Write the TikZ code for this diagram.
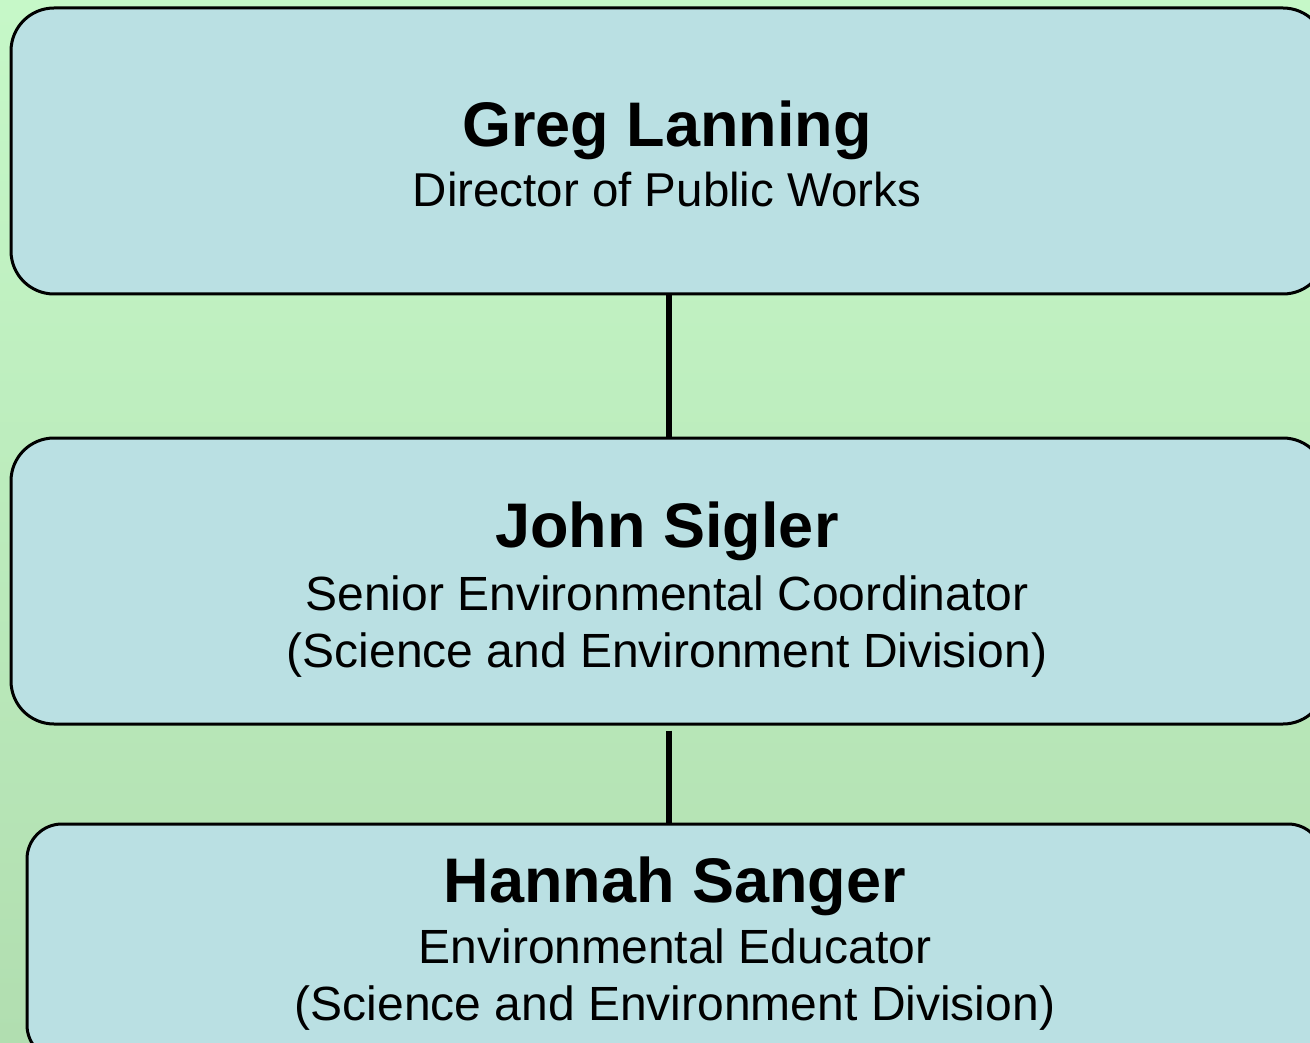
\documentclass[tikz,border=0pt]{standalone}
\usepackage{fontspec}
\setmainfont{Liberation Sans}
\definecolor{bgtop}{RGB}{198,248,200}
\definecolor{bgbottom}{RGB}{177,222,176}
\definecolor{boxfill}{RGB}{186,224,227}
\tikzset{
  staffbox/.style={draw=black, line width=3pt, fill=boxfill, rounded corners=43pt,
    inner sep=0pt, minimum width=1315pt, minimum height=286pt},
  staffname/.style={font=\bfseries\fontsize{63}{63}\selectfont, anchor=base, inner sep=0pt},
  staffrole/.style={font=\fontsize{48}{57}\selectfont, align=center, anchor=base, inner sep=0pt},
  link/.style={line width=6pt}
}
\begin{document}
\begin{tikzpicture}[x=1pt,y=-1pt]

  \shade[top color=bgtop, bottom color=bgbottom] (0,0) rectangle (1310,1043);
  \useasboundingbox (0,0) rectangle (1310,1043);

  % boxes
  \node[staffbox] (lanningbox) at (668.5,151) {};
  \node[staffbox] (siglerbox) at (668.5,581) {};
  \node[staffbox, rounded corners=35pt, minimum width=1296pt, minimum height=236pt] (sangerbox) at (675,942) {};

  % names and titles (base = last line)
  \node[staffname] (lanning) at (667,147) {Greg Lanning};
  \node[staffrole, font=\fontsize{47.5}{57}\selectfont] (lanningrole) at (667,207) {Director of Public Works};

  \node[staffname] (sigler) at (667,547) {John Sigler};
  \node[staffrole] (siglerrole) at (667,667) {Senior Environmental Coordinator\\(Science and Environment Division)};

  \node[staffname] (sanger) at (675,902) {Hannah Sanger};
  \node[staffrole] (sangerrole) at (675,1020) {Environmental Educator\\(Science and Environment Division)};

  % reporting lines
  \draw[link] (lanningbox.south) -- (siglerbox.north);
  \draw[link] ([yshift=-5pt]siglerbox.south) -- (siglerbox.south |- sangerbox.north);

\end{tikzpicture}
\end{document}
